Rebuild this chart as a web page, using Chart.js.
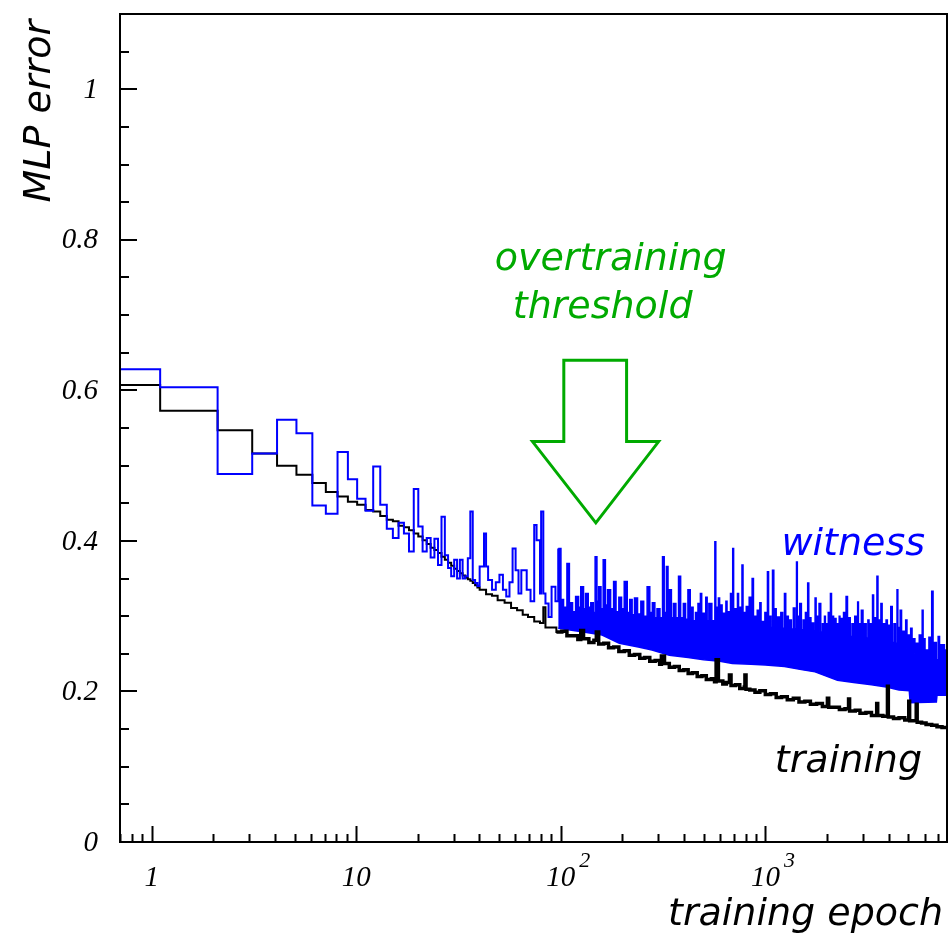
<!DOCTYPE html>
<html>
<head>
<meta charset="utf-8">
<script src="https://cdn.jsdelivr.net/npm/chart.js@4.4.0/dist/chart.umd.min.js"></script>
<style>
  html, body { margin: 0; padding: 0; background: #fff; }
  canvas { display: block; }
</style>
</head>
<body>
<canvas id="mlpChart" width="949" height="935"></canvas>
<script>
// [epoch, MLP error]
const trainingCurve = [
  [1, 0.607], [2, 0.573], [3, 0.547], [4, 0.516], [5, 0.500], [6, 0.488], [7, 0.477], [8, 0.465],
  [9, 0.459], [10, 0.452], [11, 0.448], [12, 0.441], [13, 0.439], [14, 0.433], [15, 0.428], [16, 0.426],
  [17, 0.420], [18, 0.418], [19, 0.414], [20, 0.410], [21, 0.406], [22, 0.401], [23, 0.396], [24, 0.391],
  [25, 0.388], [26, 0.384], [27, 0.379], [28, 0.375], [29, 0.371], [30, 0.367], [31, 0.363], [32, 0.360],
  [33, 0.357], [34, 0.354], [35, 0.351], [36, 0.349], [37, 0.347], [38, 0.344], [39, 0.341], [40, 0.338],
  [41, 0.335], [44, 0.329], [47, 0.327], [50, 0.321], [54, 0.318], [58, 0.311], [62, 0.308], [66, 0.302],
  [70, 0.299], [75, 0.293], [80, 0.291], [83, 0.312], [85, 0.285], [90, 0.285], [96, 0.279], [102, 0.280],
  [108, 0.274], [115, 0.274], [122, 0.269], [126, 0.281], [130, 0.270], [138, 0.265], [146, 0.268], [150, 0.279],
  [154, 0.263], [163, 0.264], [172, 0.258], [182, 0.259], [193, 0.253], [205, 0.254], [217, 0.248], [230, 0.249],
  [244, 0.244], [258, 0.245], [273, 0.240], [290, 0.241], [305, 0.236], [311, 0.247], [322, 0.237], [340, 0.232],
  [360, 0.233], [380, 0.228], [400, 0.229], [420, 0.224], [440, 0.225], [465, 0.220], [490, 0.221], [515, 0.216],
  [545, 0.217], [565, 0.213], [575, 0.242], [590, 0.214], [620, 0.210], [645, 0.212], [668, 0.222], [680, 0.208],
  [715, 0.209], [750, 0.204], [790, 0.206], [795, 0.222], [805, 0.203], [840, 0.202], [890, 0.199], [940, 0.201],
  [1000, 0.196], [1060, 0.197], [1130, 0.192], [1200, 0.193], [1280, 0.189], [1370, 0.191], [1460, 0.186], [1560, 0.187],
  [1660, 0.183], [1780, 0.184], [1900, 0.180], [2010, 0.191], [2040, 0.179], [2150, 0.179], [2300, 0.176], [2450, 0.177],
  [2550, 0.190], [2580, 0.174], [2750, 0.175], [2900, 0.171], [3100, 0.172], [3300, 0.168], [3500, 0.184], [3540, 0.168],
  [3750, 0.167], [3950, 0.207], [3990, 0.166], [4230, 0.164], [4500, 0.165], [4800, 0.162], [5020, 0.187], [5070, 0.161],
  [5250, 0.161], [5460, 0.183], [5520, 0.159], [5800, 0.158], [6100, 0.156], [6500, 0.155], [6900, 0.153], [7300, 0.152],
  [7800, 0.150]
];

const witnessCurve = [
  [1, 0.628], [2, 0.604], [3, 0.489], [4, 0.516], [5, 0.561], [6, 0.543], [7, 0.447], [8, 0.436],
  [9, 0.518], [10, 0.482], [11, 0.456], [12, 0.440], [13, 0.499], [14, 0.448], [15, 0.416], [16, 0.404],
  [17, 0.424], [18, 0.410], [19, 0.386], [20, 0.469], [21, 0.419], [22, 0.386], [23, 0.404], [24, 0.378],
  [25, 0.403], [26, 0.368], [27, 0.432], [28, 0.381], [29, 0.364], [30, 0.353], [31, 0.375], [32, 0.350],
  [33, 0.375], [34, 0.350], [35, 0.353], [36, 0.377], [37, 0.439], [38, 0.348], [39, 0.344], [40, 0.340],
  [41, 0.366], [43, 0.410], [44, 0.366], [45, 0.348], [47, 0.335], [49, 0.345], [51, 0.355], [53, 0.335],
  [55, 0.326], [57, 0.345], [59, 0.390], [61, 0.361], [63, 0.330], [65, 0.361], [69, 0.335], [72, 0.320],
  [75, 0.421], [77, 0.401], [80, 0.330], [81, 0.439], [83, 0.330], [85, 0.317], [88, 0.299], [91, 0.339],
  [95, 0.320], [98, 0.390], [101, 0.322], [104, 0.312], [108, 0.370], [111, 0.318], [115, 0.306], [119, 0.326],
  [123, 0.312], [126, 0.339], [130, 0.310], [133, 0.330], [137, 0.312], [141, 0.318], [145, 0.305], [148, 0.379],
  [151, 0.320], [154, 0.339], [158, 0.310], [162, 0.375], [166, 0.315], [170, 0.335], [176, 0.310], [182, 0.346],
  [187, 0.306], [193, 0.325], [199, 0.310], [205, 0.346], [212, 0.305], [218, 0.322], [224, 0.302], [230, 0.324],
  [238, 0.303], [247, 0.320], [255, 0.300], [265, 0.339], [273, 0.305], [281, 0.318], [289, 0.298], [296, 0.310],
  [306, 0.298], [315, 0.379], [321, 0.305], [329, 0.366], [335, 0.300], [340, 0.335], [348, 0.298], [356, 0.317],
  [366, 0.298], [377, 0.353], [386, 0.298], [398, 0.317], [408, 0.296], [419, 0.335], [430, 0.296], [437, 0.312],
  [444, 0.294], [456, 0.305], [469, 0.317], [476, 0.296], [482, 0.330], [489, 0.295], [496, 0.304], [504, 0.294],
  [512, 0.325], [520, 0.294], [530, 0.317], [548, 0.294], [567, 0.399], [573, 0.298], [578, 0.312], [584, 0.294],
  [590, 0.324], [598, 0.293], [607, 0.315], [615, 0.293], [625, 0.304], [633, 0.292], [642, 0.320], [650, 0.292],
  [660, 0.306], [668, 0.291], [676, 0.330], [684, 0.291], [693, 0.390], [700, 0.292], [710, 0.310], [720, 0.290],
  [731, 0.330], [740, 0.290], [750, 0.312], [760, 0.290], [769, 0.368], [778, 0.290], [787, 0.305], [797, 0.289],
  [807, 0.313], [820, 0.289], [834, 0.325], [848, 0.288], [862, 0.350], [875, 0.288], [888, 0.300], [900, 0.287],
  [913, 0.308], [926, 0.287], [940, 0.318], [953, 0.287], [967, 0.293], [980, 0.286], [995, 0.305], [1008, 0.286],
  [1024, 0.359], [1037, 0.286], [1050, 0.300], [1065, 0.285], [1084, 0.361], [1100, 0.285], [1115, 0.310], [1130, 0.285],
  [1148, 0.299], [1170, 0.284], [1190, 0.305], [1215, 0.284], [1240, 0.330], [1258, 0.284], [1275, 0.300], [1295, 0.283],
  [1313, 0.295], [1340, 0.283], [1370, 0.311], [1395, 0.283], [1420, 0.372], [1433, 0.283], [1445, 0.300], [1460, 0.282],
  [1473, 0.317], [1500, 0.282], [1530, 0.295], [1550, 0.281], [1570, 0.305], [1590, 0.281], [1610, 0.344], [1630, 0.281],
  [1650, 0.298], [1670, 0.280], [1690, 0.291], [1720, 0.280], [1750, 0.324], [1770, 0.280], [1790, 0.300], [1810, 0.279],
  [1830, 0.317], [1865, 0.279], [1900, 0.290], [1920, 0.278], [1945, 0.300], [1965, 0.278], [1990, 0.290], [2010, 0.277],
  [2030, 0.305], [2055, 0.277], [2080, 0.330], [2105, 0.277], [2130, 0.300], [2155, 0.276], [2180, 0.297], [2215, 0.276],
  [2250, 0.290], [2270, 0.275], [2295, 0.300], [2315, 0.275], [2340, 0.297], [2375, 0.275], [2410, 0.305], [2445, 0.274],
  [2480, 0.326], [2520, 0.274], [2560, 0.298], [2600, 0.273], [2650, 0.290], [2690, 0.273], [2735, 0.300], [2780, 0.272],
  [2825, 0.319], [2850, 0.272], [2880, 0.290], [2910, 0.272], [2945, 0.308], [3000, 0.271], [3050, 0.290], [3110, 0.271],
  [3170, 0.295], [3210, 0.270], [3250, 0.290], [3295, 0.270], [3340, 0.328], [3380, 0.269], [3420, 0.298], [3465, 0.269],
  [3510, 0.353], [3550, 0.268], [3590, 0.295], [3630, 0.268], [3670, 0.317], [3720, 0.267], [3780, 0.290], [3830, 0.267],
  [3890, 0.295], [3945, 0.266], [4000, 0.288], [4050, 0.266], [4100, 0.313], [4170, 0.265], [4250, 0.290], [4320, 0.264],
  [4400, 0.335], [4440, 0.263], [4480, 0.285], [4520, 0.262], [4560, 0.308], [4630, 0.260], [4700, 0.280], [4775, 0.258],
  [4850, 0.295], [4920, 0.256], [4990, 0.275], [5060, 0.254], [5130, 0.284], [5210, 0.252], [5300, 0.270], [5380, 0.250],
  [5470, 0.264], [5560, 0.249], [5650, 0.275], [5745, 0.248], [5840, 0.308], [5900, 0.247], [5970, 0.270], [6030, 0.246],
  [6100, 0.255], [6200, 0.245], [6300, 0.272], [6400, 0.244], [6500, 0.333], [6600, 0.243], [6700, 0.265], [6850, 0.242],
  [6990, 0.273], [7100, 0.241], [7200, 0.262], [7300, 0.240], [7410, 0.262], [7500, 0.239], [7600, 0.255], [7700, 0.238],
  [7800, 0.255]
];

// lower edge of the dense witness band
const witnessFloor = [
  [98, 0.284], [130, 0.279], [160, 0.275], [194, 0.264], [240, 0.259], [280, 0.255], [340, 0.248], [420, 0.245],
  [500, 0.242], [600, 0.240], [690, 0.237], [850, 0.236], [1000, 0.235], [1240, 0.233], [1500, 0.229], [1750, 0.226],
  [2000, 0.220], [2250, 0.215], [2700, 0.212], [3300, 0.209], [3900, 0.206], [4500, 0.202], [5050, 0.201], [5100, 0.185],
  [6850, 0.186], [6900, 0.195], [7800, 0.195]
];

const denseFrom = 98;

const xMajorTicks = [1, 10, 100, 1000];
const xTickBase = ['1', '10', '10', '10'];
const xTickExp = ['', '', '2', '3'];
const yMajorTicks = [0, 0.2, 0.4, 0.6, 0.8, 1];
const yTickLabels = ['0', '0.2', '0.4', '0.6', '0.8', '1'];

// each epoch is a bin that ends at epoch + 0.1
function toPoints(rows) {
  return rows.map(r => ({x: r[0] - 0.9, y: r[1]}));
}

const BLUE = '#0000ff';
const GREEN = '#00aa00';
const SERIF = '"Liberation Serif", "Times New Roman", serif';
const SANS = '"DejaVu Sans", Verdana, sans-serif';

const axesPlugin = {
  id: 'rootAxes',
  afterDatasetsDraw(chart) {
    const {ctx, chartArea: a, scales: {x, y}} = chart;
    ctx.save();
    ctx.strokeStyle = '#000';
    ctx.fillStyle = '#000';
    ctx.lineWidth = 2;
    ctx.strokeRect(a.left, a.top, a.right - a.left, a.bottom - a.top);

    // y ticks, inside the frame
    ctx.beginPath();
    for (let k = 1; k < 22; k++) {
      const py = Math.round(y.getPixelForValue(k * 0.05));
      const len = k % 4 === 0 ? 17 : 9;
      ctx.moveTo(a.left, py);
      ctx.lineTo(a.left + len, py);
    }
    // x ticks
    for (let p = -1; p <= 3; p++) {
      for (let d = 1; d <= 9; d++) {
        const v = d * Math.pow(10, p);
        if (v <= x.min || v >= x.max) continue;
        const px = Math.round(x.getPixelForValue(v)) + 0.5;
        const len = d === 1 ? 16 : 8;
        ctx.moveTo(px, a.bottom);
        ctx.lineTo(px, a.bottom - len);
      }
    }
    ctx.stroke();

    ctx.font = 'italic 29px ' + SERIF;
    ctx.textAlign = 'right';
    ctx.textBaseline = 'middle';
    yMajorTicks.forEach((v, i) => {
      ctx.fillText(yTickLabels[i], a.left - 22, y.getPixelForValue(v) + 1);
    });

    ctx.textBaseline = 'alphabetic';
    xMajorTicks.forEach((v, i) => {
      const px = x.getPixelForValue(v);
      ctx.font = 'italic 29px ' + SERIF;
      ctx.textAlign = 'center';
      ctx.fillText(xTickBase[i], px, a.bottom + 44);
      if (xTickExp[i]) {
        const w = ctx.measureText(xTickBase[i]).width;
        ctx.font = 'italic 22px ' + SERIF;
        ctx.textAlign = 'left';
        ctx.fillText(xTickExp[i], px + w / 2 + 4, a.bottom + 25);
      }
    });

    // axis titles
    ctx.font = 'italic 38px ' + SANS;
    ctx.textAlign = 'right';
    ctx.fillText('training epoch', a.right - 4, 925);
    ctx.save();
    ctx.translate(50, 20);
    ctx.rotate(-Math.PI / 2);
    ctx.fillText('MLP error', 0, 0);
    ctx.restore();

    // annotations placed in data coordinates
    const X = v => x.getPixelForValue(v);
    const Y = v => y.getPixelForValue(v);
    ctx.textAlign = 'left';
    ctx.fillStyle = GREEN;
    ctx.font = 'italic 38px ' + SANS;
    ctx.fillText('overtraining', X(47.5), Y(0.760));
    ctx.fillText('threshold', X(58.2), Y(0.696));

    ctx.textAlign = 'right';
    ctx.fillStyle = BLUE;
    ctx.fillText('witness', X(6030), Y(0.381));
    ctx.fillStyle = '#000';
    ctx.fillText('training', X(5830), Y(0.093));

    // hollow arrow
    ctx.strokeStyle = GREEN;
    ctx.lineWidth = 3;
    ctx.lineJoin = 'miter';
    ctx.beginPath();
    ctx.moveTo(X(103.4), Y(0.640));
    ctx.lineTo(X(209.6), Y(0.640));
    ctx.lineTo(X(209.6), Y(0.532));
    ctx.lineTo(X(300.6), Y(0.532));
    ctx.lineTo(X(148.3), Y(0.424));
    ctx.lineTo(X(72.7), Y(0.532));
    ctx.lineTo(X(103.4), Y(0.532));
    ctx.closePath();
    ctx.stroke();
    ctx.restore();
  }
};

const lineBase = {
  parsing: false,
  stepped: 'before',
  pointRadius: 0,
  tension: 0,
  fill: false,
};

const ctx = document.getElementById('mlpChart').getContext('2d');
new Chart(ctx, {
  type: 'line',
  data: {
    datasets: [
      Object.assign({}, lineBase, {
        label: 'witness',
        data: toPoints(witnessCurve.filter(r => r[0] <= denseFrom)),
        borderColor: BLUE,
        borderWidth: 2,
        order: 0,
      }),
      Object.assign({}, lineBase, {
        label: 'witness band',
        data: toPoints(witnessCurve.filter(r => r[0] >= denseFrom)),
        borderColor: BLUE,
        backgroundColor: BLUE,
        borderWidth: 1.5,
        fill: '+1',
        order: 3,
      }),
      Object.assign({}, lineBase, {
        label: 'witness floor',
        data: toPoints(witnessFloor),
        stepped: false,
        borderColor: BLUE,
        borderWidth: 1.5,
        order: 4,
      }),
      Object.assign({}, lineBase, {
        label: 'training',
        data: toPoints(trainingCurve.filter(r => r[0] <= 102)),
        borderColor: '#000',
        borderWidth: 2,
        order: 1,
      }),
      Object.assign({}, lineBase, {
        label: 'training (dense)',
        data: toPoints(trainingCurve.filter(r => r[0] >= 96)),
        borderColor: '#000',
        borderWidth: 3.5,
        order: 2,
      }),
    ]
  },
  options: {
    responsive: false,
    animation: false,
    events: [],
    layout: {
      padding: {left: 120, right: 2, top: 14, bottom: 93}
    },
    plugins: {
      legend: {display: false},
      tooltip: {enabled: false},
    },
    scales: {
      x: {
        type: 'logarithmic',
        display: false,
        min: 0.7,
        max: 7720,
      },
      y: {
        type: 'linear',
        display: false,
        min: 0,
        max: 1.1,
      }
    }
  },
  plugins: [axesPlugin]
});
</script>
</body>
</html>
